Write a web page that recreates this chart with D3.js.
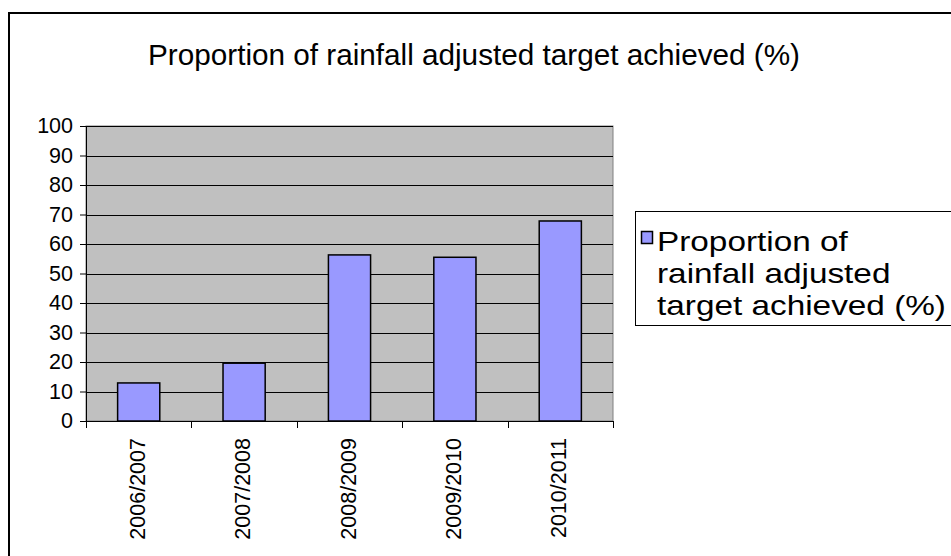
<!DOCTYPE html>
<html><head><meta charset="utf-8">
<script src="https://cdn.jsdelivr.net/npm/d3@7"></script>
<style>body{margin:0;background:#fff}svg{display:block}text{font-family:"Liberation Sans",Arial,sans-serif;fill:#000}</style>
</head><body><svg id="c" width="951" height="556"></svg>
<script>
const title = "Proportion of rainfall adjusted target achieved (%)";
const categories = ["2006/2007","2007/2008","2008/2009","2009/2010","2010/2011"];
const values = [12.9, 19.6, 56.3, 55.5, 67.8];
const yTicks = [0,10,20,30,40,50,60,70,80,90,100];
const legendLines = ["Proportion of","rainfall adjusted","target achieved (%)"];

const svg = d3.select("#c");
// outer frame
svg.append("rect").attr("x",9).attr("y",13).attr("width",960).attr("height",560)
  .attr("fill","#fff").attr("stroke","#000").attr("stroke-width",2);

const pl=86, pr=613, pt=126, pb=421;
const x = d3.scaleBand().domain(categories).range([pl,pr]).paddingInner(0.6).paddingOuter(0.3);
const y = d3.scaleLinear().domain([0,100]).range([pb,pt]);

svg.append("rect").attr("x",pl).attr("y",pt).attr("width",pr-pl).attr("height",pb-pt)
  .attr("fill","#C0C0C0").attr("stroke","#808080").attr("stroke-width",1);

// gridlines
svg.append("g").selectAll("line").data(yTicks.filter(d=>d>0)).join("line")
  .attr("x1",pl).attr("x2",pr).attr("y1",d=>Math.round(y(d))+0.5).attr("y2",d=>Math.round(y(d))+0.5)
  .attr("stroke","#000").attr("stroke-width",1);

// bars
svg.append("g").selectAll("rect").data(values).join("rect")
  .attr("x",(d,i)=>x(categories[i])).attr("width",x.bandwidth())
  .attr("y",d=>y(d)).attr("height",d=>pb-y(d))
  .attr("fill","#9999FF").attr("stroke","#000").attr("stroke-width",1.5);

// y axis
const ya = d3.axisLeft(y).tickValues(yTicks).tickSize(6).tickPadding(7);
const gy = svg.append("g").attr("transform",`translate(${pl},0)`).call(ya);
gy.select(".domain").attr("stroke","#000");
gy.selectAll("text").style("font-size","21.5px").style("font-family","Liberation Sans, Arial, sans-serif").attr("fill","#000");

// x axis line + ticks at category boundaries
const step = x.step();
const bounds = d3.range(categories.length+1).map(i=>pl+i*step);
svg.append("line").attr("x1",pl).attr("x2",pr).attr("y1",pb+0.5).attr("y2",pb+0.5).attr("stroke","#000");
svg.append("g").selectAll("line").data(bounds).join("line")
  .attr("x1",d=>Math.round(d)+0.5).attr("x2",d=>Math.round(d)+0.5).attr("y1",pb).attr("y2",pb+7).attr("stroke","#000");
svg.append("g").selectAll("text").data(categories).join("text")
  .attr("transform",d=>`translate(${x(d)+x.bandwidth()/2+6},${438}) rotate(-90)`)
  .attr("text-anchor","end").style("font-size","21.5px").text(d=>d);

// title
svg.append("text").attr("x",474).attr("y",65).attr("text-anchor","middle")
  .style("font-size","29px").attr("textLength",652).attr("lengthAdjust","spacingAndGlyphs").text(title);

// legend
svg.append("rect").attr("x",635.5).attr("y",211.5).attr("width",330).attr("height",114)
  .attr("fill","#fff").attr("stroke","#000").attr("stroke-width",1);
svg.append("rect").attr("x",641.5).attr("y",231.5).attr("width",11).attr("height",12)
  .attr("fill","#9999FF").attr("stroke","#000").attr("stroke-width",1.5);
svg.append("g").attr("transform","translate(657,0) scale(1.17,1)")
  .selectAll("text").data(legendLines).join("text")
  .attr("x",0).attr("y",(d,i)=>251+i*32).style("font-size","28.5px").text(d=>d);
</script></body></html>
